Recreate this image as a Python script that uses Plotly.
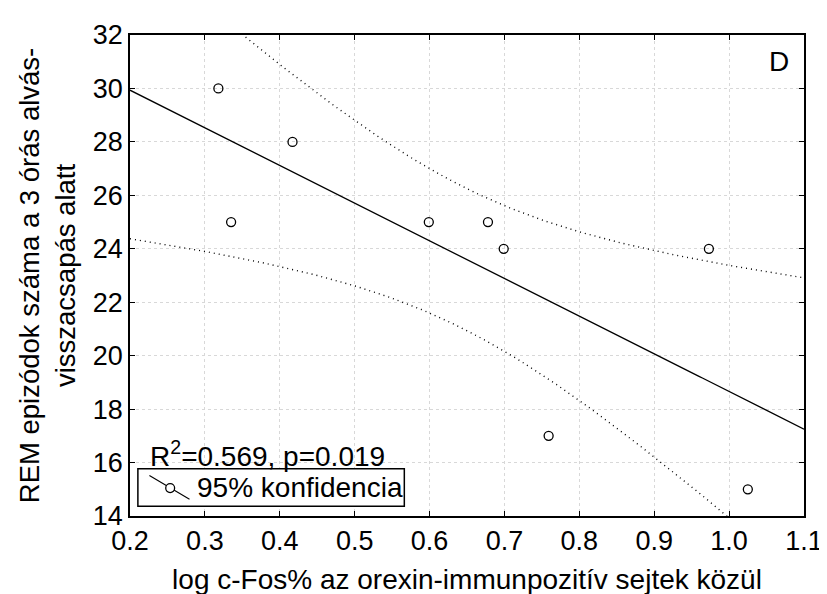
import numpy as np
import plotly.graph_objects as go

# Data
x_vals = [0.318, 0.335, 0.417, 0.599, 0.678, 0.699, 0.759, 0.973, 1.025]
y_vals = [30, 25, 28, 25, 25, 24, 17, 24, 15]
x_ticks = [0.2, 0.3, 0.4, 0.5, 0.6, 0.7, 0.8, 0.9, 1.0, 1.1]
y_ticks = [14, 16, 18, 20, 22, 24, 26, 28, 30, 32]
stats_text = "R<sup>2</sup>=0.569, p=0.019"
legend_name = "95% konfidencia"
panel_label = "D"
x_title = "log c-Fos% az orexin-immunpozitív sejtek közül"
y_title = "REM epizódok száma a 3 órás alvás-<br>visszacsapás alatt"

# Linear regression with 95% confidence band of the mean
x = np.array(x_vals)
y = np.array(y_vals)
n = len(x)
b, a = np.polyfit(x, y, 1)
resid = y - (a + b * x)
s = np.sqrt(np.sum(resid ** 2) / (n - 2))
sxx = np.sum((x - x.mean()) ** 2)
t_crit = 2.3646  # t(0.975, df=7)
xf = np.linspace(0.2, 1.1, 200)
yf = a + b * xf
half = t_crit * s * np.sqrt(1 / n + (xf - x.mean()) ** 2 / sxx)

FONT = "Liberation Sans, Arial, sans-serif"
FS_TICK = 27
FS = 28

fig = go.Figure()
fig.add_trace(go.Scatter(x=xf, y=yf, mode="lines", line=dict(color="black", width=1.3),
                         showlegend=False, hoverinfo="skip"))
fig.add_trace(go.Scatter(x=xf, y=yf + half, mode="lines",
                         line=dict(color="black", width=1.4, dash="1px,4px"),
                         showlegend=False, hoverinfo="skip"))
fig.add_trace(go.Scatter(x=xf, y=yf - half, mode="lines",
                         line=dict(color="black", width=1.4, dash="1px,4px"),
                         showlegend=False, hoverinfo="skip"))
fig.add_trace(go.Scatter(x=x, y=y, mode="markers",
                         marker=dict(symbol="circle-open", size=9, color="black",
                                     line=dict(width=1.3)),
                         showlegend=False))

axis_common = dict(
    showline=True, linecolor="black", linewidth=1.5, mirror="ticks",
    ticks="inside", ticklen=5, tickcolor="black",
    showgrid=True, gridcolor="#d8d8d8", griddash="dot", gridwidth=1,
    zeroline=False, tickfont=dict(family=FONT, size=FS_TICK, color="black"),
)

fig.update_xaxes(range=[0.2, 1.1], tickvals=x_ticks,
                 ticktext=[f"{v:.1f}" for v in x_ticks],
                 title=dict(text=x_title, font=dict(family=FONT, size=FS, color="black"),
                            standoff=14),
                 **axis_common)
fig.update_yaxes(range=[14, 32], tickvals=y_ticks,
                 ticktext=[str(v) for v in y_ticks],
                 title=dict(text=y_title, font=dict(family=FONT, size=27.5, color="black"),
                            standoff=9),
                 **axis_common)

# statistics text and panel label
fig.add_annotation(x=0.026, y=0.129, xref="paper", yref="paper", xanchor="left",
                   yanchor="middle", text=stats_text, showarrow=False,
                   font=dict(family=FONT, size=FS, color="black"))
fig.add_annotation(x=0.963, y=0.945, xref="paper", yref="paper", xanchor="center",
                   yanchor="middle", text=panel_label, showarrow=False,
                   font=dict(family=FONT, size=FS, color="black"))

# legend box (drawn like the original: diagonal line through an open circle)
fig.add_shape(type="rect", xref="paper", yref="paper", x0=0.0117, x1=0.407,
              y0=0.0205, y1=0.0984, line=dict(color="black", width=1.5),
              fillcolor="white", layer="above")
fig.add_shape(type="line", xref="paper", yref="paper", x0=0.0288, y0=0.084,
              x1=0.0883, y1=0.0348, line=dict(color="black", width=1.1), layer="above")
fig.add_shape(type="circle", xref="paper", yref="paper", x0=0.0596 - 0.0066,
              x1=0.0596 + 0.0066, y0=0.058 - 0.0092, y1=0.058 + 0.0092,
              line=dict(color="black", width=1.3), fillcolor="white", layer="above")
fig.add_annotation(x=0.0966, y=0.0594, xref="paper", yref="paper", xanchor="left",
                   yanchor="middle", text=legend_name, showarrow=False,
                   font=dict(family=FONT, size=FS, color="black"))

fig.update_layout(
    width=827, height=594,
    margin=dict(l=122, r=22, t=22, b=84),
    paper_bgcolor="white", plot_bgcolor="white",
    font=dict(family=FONT, size=FS, color="black"),
    showlegend=False,
)

fig.write_html("out.html")
